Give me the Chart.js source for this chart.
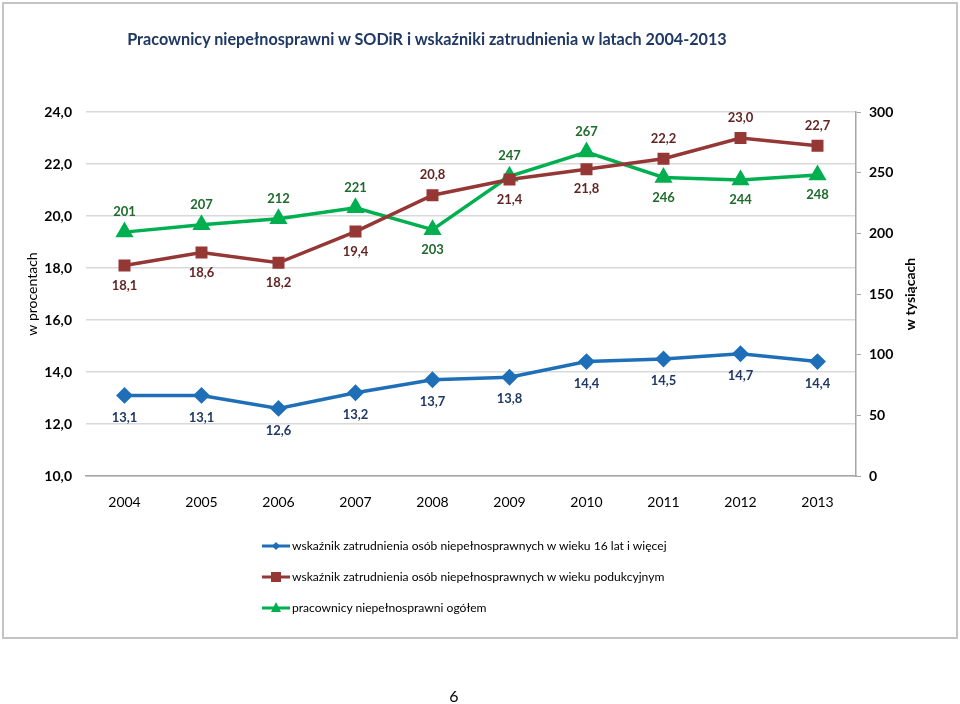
<!DOCTYPE html>
<html>
<head>
<meta charset="utf-8">
<script src="https://cdn.jsdelivr.net/npm/chart.js@4.4.1/dist/chart.umd.min.js"></script>
<style>
  html, body { margin: 0; padding: 0; background: #fff; }
  body { width: 960px; height: 704px; position: relative; overflow: hidden; font-family: Lato, 'Open Sans', sans-serif; }
  #frame { position: absolute; left: 2px; top: 2px; width: 952px; height: 633px; border: 2px solid #c4c4c4; }
  #wrap { position: absolute; left: 0; top: 0; width: 960px; height: 704px; }
  #title { position: absolute; left: 0; width: 854px; top: 29px; text-align: center; font-weight: bold; font-size: 16.2px; color: #1f3864; }
  #legend { position: absolute; left: 262px; top: 539px; font-size: 12.1px; color: #000; }
  #legend .row { height: 31px; display: flex; align-items: flex-start; }
  #legend svg { margin-right: 2px; }
  #page { position: absolute; left: 0; width: 908px; top: 686px; text-align: center; font-size: 16px; color: #000; }
</style>
</head>
<body>
<div id="frame"></div>
<div id="wrap"><canvas id="chart"></canvas></div>
<div id="title">Pracownicy niepełnosprawni w SODiR i wskaźniki zatrudnienia w latach 2004-2013</div>
<div id="legend"></div>
<div id="page">6</div>
<script>
const years = ['2004', '2005', '2006', '2007', '2008', '2009', '2010', '2011', '2012', '2013'];
const rate16 = [13.1, 13.1, 12.6, 13.2, 13.7, 13.8, 14.4, 14.5, 14.7, 14.4];
const rateWorkAge = [18.1, 18.6, 18.2, 19.4, 20.8, 21.4, 21.8, 22.2, 23.0, 22.7];
const workersTotal = [201, 207, 212, 221, 203, 247, 267, 246, 244, 248];
const leftTicks = { min: 10, max: 24, step: 2 };
const rightTicks = { min: 0, max: 300, step: 50 };

// where each value label sits relative to its point
const sides = [
    ['b', 'b', 'b', 'b', 'b', 'b', 'b', 'b', 'b', 'b'],
    ['b', 'b', 'b', 'b', 'a', 'b', 'b', 'a', 'a', 'a'],
    ['a', 'a', 'a', 'a', 'b', 'a', 'a', 'b', 'b', 'b']
];
const labelColors = ['#1f3864', '#632523', '#1e6b2c'];

const FONT = "Lato, 'Open Sans', sans-serif";
const pl = v => v.toFixed(1).replace('.', ',');

const valueLabels = {
    id: 'valueLabels',
    afterDatasetsDraw(chart) {
        const ctx = chart.ctx;
        ctx.save();
        ctx.font = 'bold 13px ' + FONT;
        ctx.textAlign = 'center';
        ctx.textBaseline = 'middle';
        chart.data.datasets.forEach((ds, di) => {
            const meta = chart.getDatasetMeta(di);
            ctx.fillStyle = labelColors[di];
            meta.data.forEach((pt, i) => {
                const off = di === 0 ? 22 : 20;
                const y = sides[di][i] === 'a' ? pt.y - off : pt.y + off;
                const txt = di === 2 ? String(ds.data[i]) : pl(ds.data[i]);
                ctx.fillText(txt, pt.x, y);
            });
        });
        ctx.restore();
    }
};

const rightTitle = {
    id: 'rightTitle',
    afterDraw(chart) {
        const ctx = chart.ctx;
        const a = chart.chartArea;
        ctx.save();
        ctx.translate(910, (a.top + a.bottom) / 2);
        ctx.rotate(-Math.PI / 2);
        ctx.font = 'bold 14px ' + FONT;
        ctx.fillStyle = '#000';
        ctx.textAlign = 'center';
        ctx.textBaseline = 'middle';
        ctx.fillText('w tysiącach', 0, 0);
        ctx.restore();
    }
};

const chart = new Chart(document.getElementById('chart'), {
    type: 'line',
    data: {
        labels: years,
        datasets: [
            {
                label: 'wskaźnik zatrudnienia osób niepełnosprawnych w wieku 16 lat i więcej',
                data: rate16,
                yAxisID: 'y',
                borderColor: '#1f6fb8',
                backgroundColor: '#1f6fb8',
                borderWidth: 3.5,
                pointStyle: 'rectRot',
                pointRadius: 6,
                pointHoverRadius: 6,
                tension: 0
            },
            {
                label: 'wskaźnik zatrudnienia osób niepełnosprawnych w wieku podukcyjnym',
                data: rateWorkAge,
                yAxisID: 'y',
                borderColor: '#953735',
                backgroundColor: '#953735',
                borderWidth: 3.5,
                pointStyle: 'rect',
                pointRadius: 6,
                pointHoverRadius: 6,
                tension: 0
            },
            {
                label: 'pracownicy niepełnosprawni ogółem',
                data: workersTotal,
                yAxisID: 'y2',
                borderColor: '#00b050',
                backgroundColor: '#00b050',
                borderWidth: 3.5,
                pointStyle: 'triangle',
                pointRadius: 7,
                pointHoverRadius: 7,
                tension: 0
            }
        ]
    },
    options: {
        responsive: true,
        maintainAspectRatio: false,
        animation: false,
        layout: { padding: { top: 112, bottom: 188, left: 0, right: 0 } },
        plugins: {
            legend: { display: false },
            tooltip: { enabled: false }
        },
        scales: {
            x: {
                offset: true,
                grid: { display: false },
                border: { display: true, color: '#a6a6a6', width: 1.5 },
                ticks: { color: '#000', font: { family: FONT, size: 14 }, padding: 10, maxRotation: 0 },
                afterFit: s => { s.height = 40; }
            },
            y: {
                position: 'left',
                min: leftTicks.min,
                max: leftTicks.max,
                border: { display: false },
                grid: { color: '#d9d9d9', lineWidth: 1.5, drawTicks: false },
                ticks: {
                    stepSize: leftTicks.step,
                    color: '#000',
                    padding: 14,
                    font: { family: FONT, size: 14, weight: 'bold' },
                    callback: v => pl(v)
                },
                title: {
                    display: true,
                    text: 'w procentach',
                    color: '#000',
                    font: { family: FONT, size: 14 },
                    padding: { top: 24 }
                },
                afterFit: s => { s.width = 86; }
            },
            y2: {
                position: 'right',
                min: rightTicks.min,
                max: rightTicks.max,
                border: { display: true, color: '#a6a6a6', width: 1.5 },
                grid: { drawOnChartArea: false, color: '#a6a6a6', tickLength: 5 },
                ticks: {
                    stepSize: rightTicks.step,
                    color: '#000',
                    padding: 8,
                    font: { family: FONT, size: 14, weight: 'bold' }
                },
                afterFit: s => { s.width = 104; }
            }
        }
    },
    plugins: [valueLabels, rightTitle]
});

// legend built from the chart's own datasets
const legendEl = document.getElementById('legend');
chart.data.datasets.forEach(ds => {
    const c = ds.borderColor;
    let mark = '';
    if (ds.pointStyle === 'rectRot') mark = `<polygon points="14,3 18,7 14,11 10,7" fill="${c}"/>`;
    else if (ds.pointStyle === 'rect') mark = `<rect x="9" y="2" width="10" height="10" fill="${c}"/>`;
    else mark = `<polygon points="14,1 19,11 9,11" fill="${c}"/>`;
    const row = document.createElement('div');
    row.className = 'row';
    row.innerHTML = `<svg width="28" height="14"><line x1="0" y1="7" x2="28" y2="7" stroke="${c}" stroke-width="3"/>${mark}</svg><span style="line-height:14px">${ds.label}</span>`;
    legendEl.appendChild(row);
});
</script>
</body>
</html>
